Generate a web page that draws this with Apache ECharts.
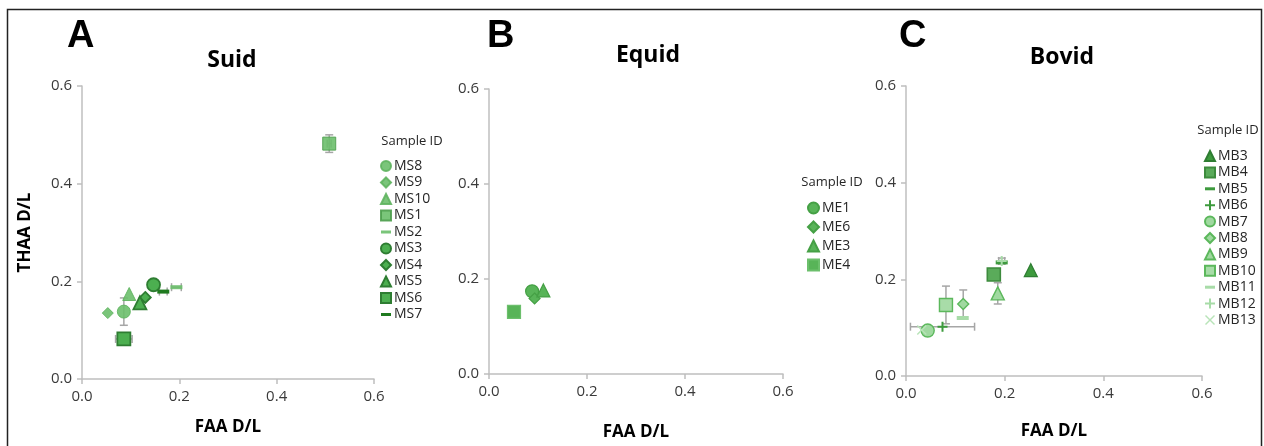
<!DOCTYPE html>
<html><head><meta charset="utf-8">
<script src="https://cdn.jsdelivr.net/npm/echarts@6/dist/echarts.min.js"></script>
<style>html,body{margin:0;padding:0;background:#fff}#c{width:1264px;height:446px}</style>
</head><body><div id="c"></div>
<script>
// ---- data ----
const suidNames = ['MS8','MS9','MS10','MS1','MS2','MS3','MS4','MS5','MS6','MS7'];
const suidX = [0.086,0.053,0.097,0.508,0.194,0.147,0.130,0.119,0.086,0.167];
const suidY = [0.138,0.135,0.174,0.482,0.188,0.193,0.167,0.156,0.082,0.179];
const suidXErr = [0,0,0,0.004,0.010,0,0,0,0.017,0.008];
const suidYErr = [0.028,0,0,0.018,0,0,0,0,0,0];

const equidNames = ['ME1','ME6','ME3','ME4'];
const equidX = [0.088,0.093,0.111,0.051];
const equidY = [0.174,0.159,0.176,0.131];
const equidXErr = [0,0,0,0.003];
const equidYErr = [0,0,0,0.004];

const bovidNames = ['MB3','MB4','MB5','MB6','MB7','MB8','MB9','MB10','MB11','MB12','MB13'];
const bovidX = [0.253,0.178,0.194,0.074,0.044,0.116,0.186,0.081,0.115,0.194,0.032];
const bovidY = [0.219,0.210,0.235,0.102,0.094,0.149,0.171,0.147,0.120,0.238,0.095];
const bovidXErr = [0,0,0,0.065,0,0,0,0,0,0.006,0];
const bovidYErr = [0,0.010,0,0,0,0.029,0.022,0.039,0,0.006,0];

const axisTicks = [0, 0.2, 0.4, 0.6];

// ---- styles ----
const DASH = 'path://M0,0H12V4H0Z';
const PLUS = 'path://M4,0H6V4H10V6H6V10H4V6H0V4H4Z';
const CROSS = 'path://M1,0L5,4L9,0L10,1L6,5L10,9L9,10L5,6L1,10L0,9L4,5L0,1Z';
const DASH_ICON = 'path://M0,0M0,10M0,3.5H10V6.5H0Z';
const L = {fill:'#6cbf6c', border:'#5fb45f'};
const D = {fill:'#4caf50', border:'#2e7d32'};
const shapes = {
  circle:{symbol:'circle', size:13, icon:'circle'},
  diamond:{symbol:'diamond', size:11, icon:'diamond'},
  triangle:{symbol:'triangle', size:13, icon:'triangle'},
  rect:{symbol:'rect', size:13, icon:'rect'},
  dash:{symbol:DASH, size:[12,4], icon:DASH_ICON},
  plus:{symbol:PLUS, size:10, icon:PLUS},
  cross:{symbol:CROSS, size:10, icon:CROSS}
};
const suidStyle = [
  ['circle',L.fill,L.border,1,0.9],['diamond',L.fill,L.border,1,0.9],['triangle',L.fill,L.border,1,0.9],
  ['rect',L.fill,'#4f9f4f',1,0.9],['dash',L.fill,L.fill,0,0.9],
  ['circle',D.fill,D.border,1.8,1],['diamond',D.fill,D.border,1.8,1],['triangle',D.fill,D.border,1.8,1],
  ['rect',D.fill,D.border,1.8,1],['dash','#1f7a1f','#1f7a1f',0,1]
];
const equidStyle = [
  ['circle','#58b458','#45a045',1.2,1],['diamond','#58b458','#45a045',1.2,1],
  ['triangle','#58b458','#45a045',1.2,1],['rect','#58b458','#6cbf6c',1.2,1]
];
const bovidStyle = [
  ['triangle','#3d9a3d','#2e7d32',1.2,1],['rect','#5aab5a','#3d8b3d',1.6,1],
  ['dash','#3d9a3d','#3d9a3d',0,1],['plus','#3d9a3d','#3d9a3d',0,1],
  ['circle','#a0d9a0','#5cb85c',1.4,1],['diamond','#a0d9a0','#5cb85c',1.4,1],
  ['triangle','#a0d9a0','#5cb85c',1.4,1],['rect','#a8dca8','#5cb85c',1.4,1],
  ['dash','#a8dca8','#a8dca8',0,1],['plus','#a8dca8','#a8dca8',0,1],['cross','#b8e4b8','#b8e4b8',0,1]
];

const fontTxt = '"Open Sans", "Noto Sans", sans-serif';
const grids = [
  {left:82, top:86, width:292, height:293},
  {left:489, top:89, width:294, height:287},
  {left:906, top:86, width:296, height:290}
];
function axis(i, name, nameGap){
  return {
    gridIndex:i, type:'value', min:0, max:0.6, interval:0.2,
    axisLine:{show:true, lineStyle:{color:'#bfbfbf', width:1.5}},
    axisTick:{show:true, length:5, lineStyle:{color:'#bfbfbf', width:1.5}},
    splitLine:{show:false},
    axisLabel:{color:'#3a3a3a', fontSize:15, fontFamily:fontTxt, formatter:v=>v.toFixed(1), margin:10},
    name:name, nameLocation:'middle', nameGap:nameGap,
    nameTextStyle:{fontWeight:'bold', fontSize:17, color:'#000', fontFamily:fontTxt}
  };
}
const xAxes = [axis(0,'FAA D/L',40), axis(1,'FAA D/L',50), axis(2,'FAA D/L',47)];
const yAxes = [axis(0,'THAA D/L',48), axis(1,'',0), axis(2,'',0)];

const series = [];
function addPanel(gi, names, xs, ys, xe, ye, styles){
  const errData = names.map((n,i)=>[xs[i], ys[i], xe[i], ye[i]]);
  series.push({
    type:'custom', xAxisIndex:gi, yAxisIndex:gi, silent:true, z:1,
    data:errData,
    renderItem:function(params, api){
      const x=api.value(0), y=api.value(1), ex=api.value(2), ey=api.value(3);
      const ch=[];
      const st={stroke:'#a6a6a6', lineWidth:1.5};
      if(ey>0){
        const p1=api.coord([x,y-ey]), p2=api.coord([x,y+ey]);
        ch.push({type:'line', shape:{x1:p1[0],y1:p1[1],x2:p2[0],y2:p2[1]}, style:st});
        ch.push({type:'line', shape:{x1:p1[0]-4,y1:p1[1],x2:p1[0]+4,y2:p1[1]}, style:st});
        ch.push({type:'line', shape:{x1:p2[0]-4,y1:p2[1],x2:p2[0]+4,y2:p2[1]}, style:st});
      }
      if(ex>0){
        const p1=api.coord([x-ex,y]), p2=api.coord([x+ex,y]);
        ch.push({type:'line', shape:{x1:p1[0],y1:p1[1],x2:p2[0],y2:p2[1]}, style:st});
        ch.push({type:'line', shape:{x1:p1[0],y1:p1[1]-4,x2:p1[0],y2:p1[1]+4}, style:st});
        ch.push({type:'line', shape:{x1:p2[0],y1:p2[1]-4,x2:p2[0],y2:p2[1]+4}, style:st});
      }
      return {type:'group', children:ch};
    }
  });
  const legData=[];
  names.forEach((n,i)=>{
    const s=styles[i], sh=shapes[s[0]];
    series.push({
      type:'scatter', name:n, xAxisIndex:gi, yAxisIndex:gi, z:2+i,
      symbol:sh.symbol, symbolSize:sh.size,
      itemStyle:{color:s[1], borderColor:s[2], borderWidth:s[3], opacity:s[4]},
      data:[[xs[i], ys[i]]]
    });
    legData.push({name:n, icon:sh.icon});
  });
  return legData;
}
const legA = addPanel(0, suidNames, suidX, suidY, suidXErr, suidYErr, suidStyle);
const legB = addPanel(1, equidNames, equidX, equidY, equidXErr, equidYErr, equidStyle);
const legC = addPanel(2, bovidNames, bovidX, bovidY, bovidXErr, bovidYErr, bovidStyle);
function leg(data, left, top, gap, isz){
  return {data:data, orient:'vertical', left:left, top:top, itemWidth:isz, itemHeight:isz, itemGap:gap,
    selectedMode:false, padding:0,
    textStyle:{fontSize:14, lineHeight:14, color:'#262626', fontFamily:fontTxt, padding:[0,0,0,-2]}};
}
const chart = echarts.init(document.getElementById('c'), null, {renderer:'canvas'});
chart.setOption({
  animation:false,
  grid:grids, xAxis:xAxes, yAxis:yAxes, series:series,
  legend:[leg(legA,380,159,2.5,10), leg(legB,807,201,5,11), leg(legC,1204,149,2.4,10)],
  graphic:[
    {type:'rect', shape:{x:7.5,y:9.5,width:1254,height:460}, style:{fill:null, stroke:'#222', lineWidth:1.5}, silent:true},
    {type:'text', left:67, top:18, style:{text:'A', font:'bold 38px "Liberation Sans", Arial, sans-serif', fill:'#000'}},
    {type:'text', left:487, top:18, style:{text:'B', font:'bold 38px "Liberation Sans", Arial, sans-serif', fill:'#000'}},
    {type:'text', left:899, top:18, style:{text:'C', font:'bold 38px "Liberation Sans", Arial, sans-serif', fill:'#000'}},
    {type:'text', x:232, y:60, style:{text:'Suid', font:'bold 23px "Open Sans", sans-serif', fill:'#000', align:'center', verticalAlign:'middle'}},
    {type:'text', x:648, y:55, style:{text:'Equid', font:'bold 23px "Open Sans", sans-serif', fill:'#000', align:'center', verticalAlign:'middle'}},
    {type:'text', x:1062, y:57, style:{text:'Bovid', font:'bold 23px "Open Sans", sans-serif', fill:'#000', align:'center', verticalAlign:'middle'}},
    {type:'text', x:412, y:141, style:{text:'Sample ID', font:'13px "Open Sans", sans-serif', fill:'#262626', align:'center', verticalAlign:'middle'}},
    {type:'text', x:832, y:182, style:{text:'Sample ID', font:'13px "Open Sans", sans-serif', fill:'#262626', align:'center', verticalAlign:'middle'}},
    {type:'text', x:1228, y:130, style:{text:'Sample ID', font:'13px "Open Sans", sans-serif', fill:'#262626', align:'center', verticalAlign:'middle'}}
  ]
});
</script></body></html>
